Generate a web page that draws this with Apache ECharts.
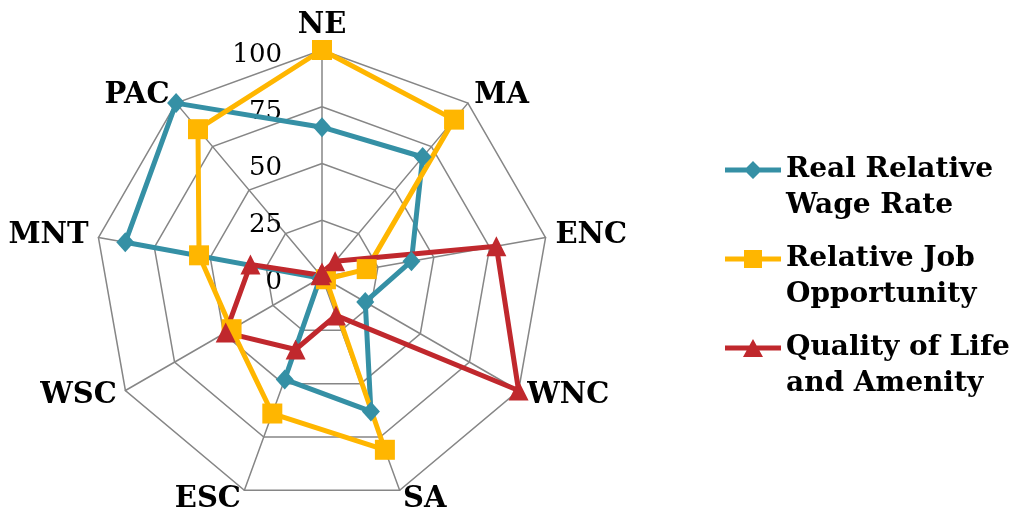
<!DOCTYPE html>
<html>
<head>
<meta charset="utf-8">
<script src="https://cdn.jsdelivr.net/npm/echarts@6/dist/echarts.min.js"></script>
<style>
  html, body { margin: 0; padding: 0; background: #fff; }
  #chart { width: 1022px; height: 515px; }
</style>
</head>
<body>
<div id="chart"></div>
<script>
// regions, clockwise from the top
const regions = ['NE', 'MA', 'ENC', 'WNC', 'SA', 'ESC', 'WSC', 'MNT', 'PAC']
const wageRate = [66, 69, 40, 22, 63, 48, 1, 88, 100]
const jobOpportunity = [100, 90.5, 20, 2, 81, 64, 46, 55, 85]
const qualityOfLife = [2, 9, 78, 100, 18, 34, 49, 32, 1]
const ringTicks = [0, 25, 50, 75, 100]

const seriesNames = ['Real Relative\nWage Rate', 'Relative Job\nOpportunity', 'Quality of Life\nand Amenity']
const colors = ['#3590A5', '#FFB600', '#C0282D']

const font = '"DejaVu Serif", Georgia, serif'

// echarts radar runs counter-clockwise, so feed it NE then backwards
function ccw(arr) {
  return [arr[0]].concat(arr.slice(1).reverse())
}

const icons = [
  'path://M0,6.5H21.5L28,0L34.5,6.5H56V11.5H34.5L28,18L21.5,11.5H0Z',
  'path://M0,6.5H19V0H37V6.5H56V11.5H37V18H19V11.5H0Z',
  'path://M0,6.5H24.4L28,0L31.6,6.5H56V11.5H34.4L38,18H18L21.6,11.5H0Z'
]
const legendTops = [116, 205, 294]

var chart = echarts.init(document.getElementById('chart'))

chart.setOption({
  animation: false,
  radar: {
    center: [322, 277],
    radius: 227,
    startAngle: 90,
    shape: 'polygon',
    splitNumber: 4,
    nameGap: 10,
    axisName: {
      color: '#000',
      fontFamily: font,
      fontWeight: 'bold',
      fontSize: 29
    },
    indicator: ccw(regions).map(function (r, i) {
      var ind = { name: r, min: 0, max: 100 }
      if (i !== 0) ind.axisLabel = { show: false }
      return ind
    }),
    axisLine: { lineStyle: { color: '#868686', width: 1.5 } },
    splitLine: { lineStyle: { color: '#868686', width: 1.5 } },
    splitArea: { show: false },
    axisTick: { show: false },
    axisLabel: {
      show: true,
      color: '#000',
      fontFamily: font,
      fontSize: 26,
      margin: 40,
      lineHeight: 10,
      // empty first line nudges the number a little below its ring
      formatter: function (v) { return ringTicks.indexOf(v) >= 0 ? '\n' + v : '' }
    }
  },
  legend: seriesNames.map(function (n, i) {
    return {
      data: [{ name: n, icon: icons[i] }],
      orient: 'vertical',
      left: 725,
      top: legendTops[i],
      padding: 0,
      itemWidth: 56,
      itemHeight: 18,
      itemGap: 4,
      selectedMode: false,
      // blank first line so the icon sits level with the first text line
      formatter: function (name) { return '\n' + name },
      textStyle: {
        color: '#000',
        fontFamily: font,
        fontWeight: 'bold',
        fontSize: 28,
        lineHeight: 36
      }
    }
  }),
  series: [{
    type: 'radar',
    data: [
      { name: seriesNames[0], value: ccw(wageRate), symbol: 'diamond', symbolSize: [18, 20] },
      { name: seriesNames[1], value: ccw(jobOpportunity), symbol: 'rect', symbolSize: 20 },
      { name: seriesNames[2], value: ccw(qualityOfLife), symbol: 'triangle', symbolSize: 20 }
    ].map(function (d, i) {
      d.lineStyle = { color: colors[i], width: 5 }
      d.itemStyle = { color: colors[i] }
      return d
    })
  }]
})
</script>
</body>
</html>
